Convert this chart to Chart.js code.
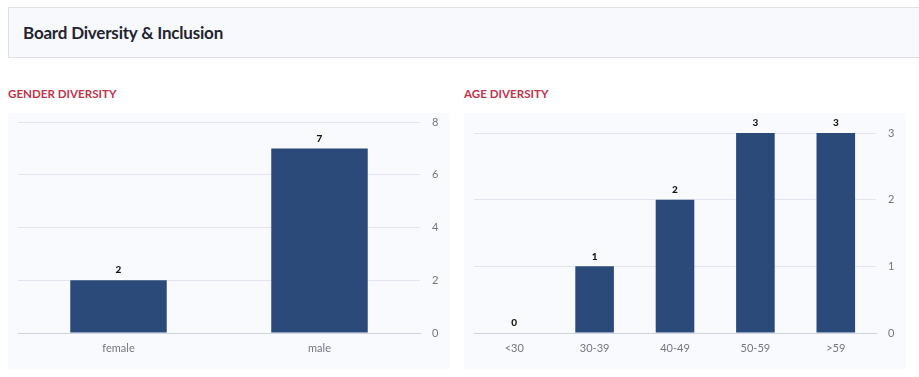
<!DOCTYPE html>
<html>
<head>
<meta charset="utf-8">
<script src="https://cdn.jsdelivr.net/npm/chart.js@4.4.0/dist/chart.umd.min.js"></script>
<style>
  html, body { margin:0; padding:0; background:#ffffff; width:919px; height:377px; overflow:hidden; font-family: Lato, "Noto Sans", sans-serif; }
  .header { position:absolute; left:8px; top:7px; width:920px; height:51px; background:#f8f9fd; border:1px solid #dde0ea; box-sizing:border-box; }
  .header h1 { position:absolute; left:14px; top:0; margin:0; line-height:49px; font-size:17px; font-weight:700; color:#1f2430; letter-spacing:-0.2px; }
  .sec { position:absolute; top:86px; font-size:11.6px; font-weight:700; color:#c0344b; line-height:16px; }
  .panel { position:absolute; top:113px; width:442px; height:256px; background:#f9fafd; }
  canvas { display:block; }
</style>
</head>
<body>
<div class="header"><h1>Board Diversity &amp; Inclusion</h1></div>
<div class="sec" style="left:8px;">GENDER DIVERSITY</div>
<div class="sec" style="left:464px;">AGE DIVERSITY</div>
<div class="panel" style="left:8px;"><canvas id="c1" width="442" height="256"></canvas></div>
<div class="panel" style="left:464px;"><canvas id="c2" width="442" height="256"></canvas></div>
<script>
const genderCategories = ["female", "male"];
const genderValues = [2, 7];
const genderTicks = [0, 2, 4, 6, 8];

const ageCategories = ["<30", "30-39", "40-49", "50-59", ">59"];
const ageValues = [0, 1, 2, 3, 3];
const ageTicks = [0, 1, 2, 3];

const BAR = "#2b4a7a";

const valueLabels = {
  id: "valueLabels",
  afterDatasetsDraw(chart) {
    const ctx = chart.ctx;
    const meta = chart.getDatasetMeta(0);
    ctx.save();
    ctx.font = "900 10px Lato, 'Noto Sans', sans-serif";
    ctx.fillStyle = "#151515";
    ctx.textAlign = "center";
    ctx.textBaseline = "middle";
    meta.data.forEach((bar, i) => {
      const v = chart.data.datasets[0].data[i];
      ctx.fillText(String(v), bar.x, bar.y - 10);
    });
    ctx.restore();
  }
};

function makeChart(id, cats, vals, ticks, topPad) {
  const maxV = ticks[ticks.length - 1];
  const step = ticks[1] - ticks[0];
  new Chart(document.getElementById(id), {
    type: "bar",
    data: {
      labels: cats,
      datasets: [{
        data: vals,
        backgroundColor: BAR,
        borderWidth: 0,
        categoryPercentage: 0.8,
        barPercentage: 0.6
      }]
    },
    options: {
      responsive: false,
      animation: false,
      events: [],
      layout: { padding: { left: 10, right: 0, top: topPad, bottom: 0 } },
      plugins: { legend: { display: false }, tooltip: { enabled: false } },
      scales: {
        x: {
          grid: { display: false, drawTicks: false },
          border: { display: true, color: "#cfd3e2", width: 1 },
          ticks: { color: "#737580", font: { size: 11, family: "Lato, 'Noto Sans', sans-serif" }, padding: 9 },
          afterFit(s) { s.height = 36; s.paddingLeft = 0; s.paddingRight = 0; }
        },
        y: {
          position: "right",
          min: 0,
          max: maxV,
          afterBuildTicks(s) { s.ticks = ticks.map(v => ({ value: v })); },
          grid: { color: "#e2e5ef", drawTicks: false },
          border: { display: false },
          ticks: { stepSize: step, color: "#737580", font: { size: 11, family: "Lato, 'Noto Sans', sans-serif" }, padding: 12 },
          afterFit(s) { s.width = 30; s.paddingTop = 0; s.paddingBottom = 0; }
        }
      }
    },
    plugins: [valueLabels]
  });
}

makeChart("c1", genderCategories, genderValues, genderTicks, 9);
makeChart("c2", ageCategories, ageValues, ageTicks, 20);
</script>
</body>
</html>
